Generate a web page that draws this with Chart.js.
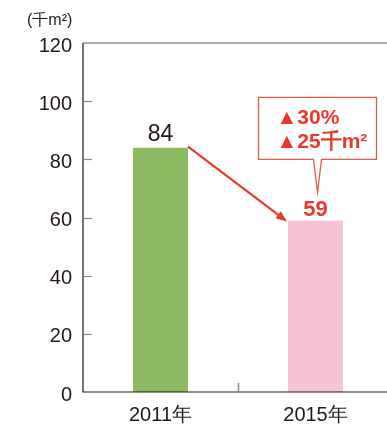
<!DOCTYPE html>
<html>
<head>
<meta charset="utf-8">
<script src="https://cdn.jsdelivr.net/npm/chart.js@4/dist/chart.umd.min.js"></script>
<style>
  html, body { margin: 0; padding: 0; background: #fff; overflow: hidden; }
  #wrap { position: relative; width: 400px; height: 425px; }
</style>
</head>
<body>
<div id="wrap"><canvas id="c" width="400" height="425"></canvas></div>
<script>
// Floor area by year (thousand m²)
const categories = ['2011年', '2015年'];
const values = [84, 59];
const barColors = ['#8bba60', '#f6c3d4'];
const yTicks = [0, 20, 40, 60, 80, 100, 120];
const unitLabel = '(千m²)';

const RED = '#e8392a';
const INK = '#231815';
const FONT = '"Liberation Sans", Arial, Helvetica, sans-serif';

const decorations = {
  id: 'decorations',
  afterDatasetsDraw(chart) {
    const ctx = chart.ctx;
    const area = chart.chartArea;
    const x = chart.scales.x;
    const y = chart.scales.y;
    const bars = chart.getDatasetMeta(0).data;
    ctx.save();

    // frame: left axis, bottom axis, top rule
    ctx.strokeStyle = INK;
    ctx.lineWidth = 1.2;
    ctx.beginPath();
    ctx.moveTo(area.left, area.top);
    ctx.lineTo(area.left, area.bottom);
    ctx.lineTo(chart.width, area.bottom);
    ctx.stroke();
    ctx.strokeStyle = '#555';
    ctx.beginPath();
    ctx.moveTo(area.left, area.top);
    ctx.lineTo(chart.width, area.top);
    ctx.stroke();

    // inward tick marks on the value axis
    ctx.strokeStyle = '#888';
    ctx.lineWidth = 1.2;
    yTicks.forEach(v => {
      if (v === 0 || v === 120) return;
      const py = Math.round(y.getPixelForValue(v)) + 0.5;
      ctx.beginPath();
      ctx.moveTo(area.left, py);
      ctx.lineTo(area.left + 9, py);
      ctx.stroke();
    });
    // divider tick between the two categories
    const mid = Math.round((x.getPixelForValue(0) + x.getPixelForValue(1)) / 2) + 0.5;
    ctx.lineWidth = 1.5;
    ctx.beginPath();
    ctx.moveTo(mid, area.bottom - 9);
    ctx.lineTo(mid, area.bottom);
    ctx.stroke();

    // unit label
    ctx.fillStyle = INK;
    ctx.font = '16px ' + FONT;
    ctx.textAlign = 'left';
    ctx.textBaseline = 'middle';
    ctx.fillText(unitLabel, 27, 21);

    // value labels
    const b0 = bars[0], b1 = bars[1];
    ctx.textAlign = 'center';
    ctx.textBaseline = 'middle';
    ctx.fillStyle = INK;
    ctx.font = '23px ' + FONT;
    ctx.fillText(String(values[0]), b0.x, b0.y - 13);
    ctx.fillStyle = RED;
    ctx.font = 'bold 22px ' + FONT;
    ctx.fillText(String(values[1]), b1.x, b1.y - 10);

    // arrow from the first bar's top to the second bar's top
    const sx = b0.x + b0.width / 2, sy = b0.y - 1;
    const ex = b1.x - b1.width / 2 - 1, ey = b1.y + 1;
    const ang = Math.atan2(ey - sy, ex - sx);
    const head = 12;
    ctx.strokeStyle = RED;
    ctx.fillStyle = RED;
    ctx.lineWidth = 2.2;
    ctx.beginPath();
    ctx.moveTo(sx, sy);
    ctx.lineTo(ex - Math.cos(ang) * head * 0.8, ey - Math.sin(ang) * head * 0.8);
    ctx.stroke();
    ctx.beginPath();
    ctx.moveTo(ex, ey);
    ctx.lineTo(ex - head * Math.cos(ang - 0.38), ey - head * Math.sin(ang - 0.38));
    ctx.lineTo(ex - head * Math.cos(ang + 0.38), ey - head * Math.sin(ang + 0.38));
    ctx.closePath();
    ctx.fill();

    // callout with the change between the two years
    const diff = values[0] - values[1];
    const pct = Math.round(diff / values[0] * 100);
    const tipX = b1.x + 2, tipY = b1.y - 28;
    const bx = b1.x - 57, bw = 118, by = tipY - 95, bh = 62;
    ctx.lineWidth = 1.3;
    ctx.strokeStyle = '#e45a4a';
    ctx.fillStyle = '#fff';
    ctx.beginPath();
    ctx.moveTo(bx, by);
    ctx.lineTo(bx + bw, by);
    ctx.lineTo(bx + bw, by + bh);
    ctx.lineTo(tipX + 4, by + bh);
    ctx.lineTo(tipX, tipY);
    ctx.lineTo(tipX - 4, by + bh);
    ctx.lineTo(bx, by + bh);
    ctx.closePath();
    ctx.fill();
    ctx.stroke();

    ctx.fillStyle = RED;
    ctx.textAlign = 'left';
    ctx.font = 'bold 21px ' + FONT;
    ctx.fillText('▲' + pct + '%', bx + 18, by + 21);
    ctx.fillText('▲' + diff + '千m²', bx + 18, by + 45);

    ctx.restore();
  }
};

new Chart(document.getElementById('c'), {
  type: 'bar',
  data: {
    labels: categories,
    datasets: [{
      data: values,
      backgroundColor: barColors,
      borderWidth: 0,
      barPercentage: 0.355,
      categoryPercentage: 1.0
    }]
  },
  options: {
    responsive: false,
    animation: false,
    layout: { padding: { top: 43, right: 7, left: 0, bottom: 0 } },
    plugins: { legend: { display: false }, tooltip: { enabled: false } },
    scales: {
      x: {
        offset: true,
        grid: { display: false, drawTicks: false },
        border: { display: false },
        ticks: { color: INK, font: { family: FONT, size: 20 }, padding: 11 },
        afterFit(s) { s.height = 33; }
      },
      y: {
        min: 0,
        max: 120,
        afterBuildTicks(s) { s.ticks = yTicks.map(v => ({ value: v })); },
        grid: { display: false, drawTicks: false },
        border: { display: false },
        ticks: { color: INK, font: { family: FONT, size: 20 }, padding: 11, labelOffset: 3 },
        afterFit(s) { s.width = 83; }
      }
    }
  },
  plugins: [decorations]
});
</script>
</body>
</html>
